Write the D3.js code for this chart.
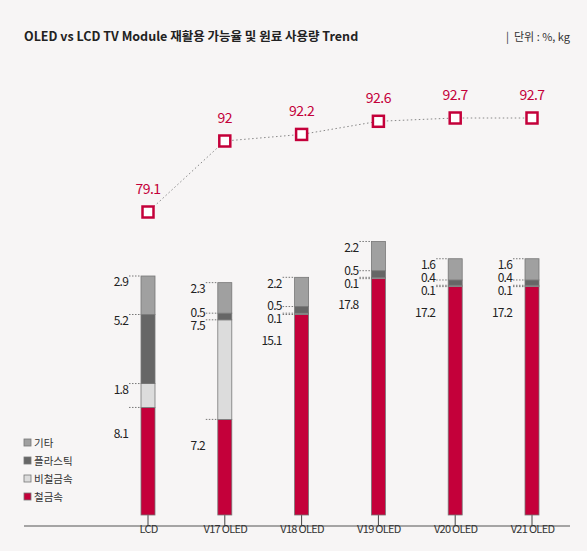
<!DOCTYPE html><html><head><meta charset="utf-8"><script src="https://cdn.jsdelivr.net/npm/d3@7"></script>
<style>body{margin:0;background:#f7f5f5}svg{display:block}text{font-family:"Noto Sans CJK KR","Noto Sans",sans-serif}</style></head><body><svg id="c" width="587" height="551"></svg><script>
const categories=["LCD","V17 OLED","V18 OLED","V19 OLED","V20 OLED","V21 OLED"];
const recycleRate=[79.1,92,92.2,92.6,92.7,92.7];
const ferrous=[8.1,7.2,15.1,17.8,17.2,17.2];
const nonferrous=[1.8,7.5,0.1,0.1,0.1,0.1];
const plastic=[5.2,0.5,0.5,0.5,0.4,0.4];
const other=[2.9,2.3,2.2,2.2,1.6,1.6];
const seriesNames=["철금속","비철금속","플라스틱","기타"];
const colors=["#c4003a","#dcdcdc","#666666","#a0a0a0"];
const svg=d3.select("#c");
svg.append("text").attr("x",24).attr("y",41).attr("font-size",12.5).attr("font-weight",700).attr("fill","#222").text("OLED vs LCD TV Module 재활용 가능율 및 원료 사용량 Trend");
svg.append("text").attr("x",570).attr("y",41).attr("text-anchor","end").attr("font-size",11).attr("fill","#333").attr("xml:space","preserve").text("|  단위 : %, kg");
const x=d3.scalePoint().domain(categories).range([148,532]);
const y=d3.scaleLinear().domain([0,18]).range([515,276]);
const yr=d3.scaleLinear().domain([79.1,92,92.7]).range([212,141,118]);
const data=categories.map((c,i)=>({c,vals:[ferrous[i],nonferrous[i],plastic[i],other[i]]}));
const stack=d3.stack().keys([0,1,2,3]).value((d,k)=>d.vals[k])(data);
svg.append("line").attr("x1",24).attr("x2",570).attr("y1",526).attr("y2",526).attr("stroke","#555").attr("stroke-width",1.2);
const ax=svg.append("g").attr("transform","translate(0,524)").call(d3.axisBottom(x).tickSize(0).tickPadding(1));
ax.select(".domain").remove();
ax.selectAll("text").attr("font-size",11).attr("fill","#333").attr("font-family","'Noto Sans CJK KR',sans-serif").attr("letter-spacing",-0.7);
categories.forEach(c=>svg.append("line").attr("x1",x(c)).attr("x2",x(c)).attr("y1",515).attr("y2",526).attr("stroke","#444"));
const bw=14;
stack.forEach((s,k)=>{svg.selectAll(null).data(s).enter().append("rect").attr("x",d=>x(d.data.c)-bw/2).attr("width",bw).attr("y",d=>y(d[1])).attr("height",d=>y(d[0])-y(d[1])).attr("fill",colors[k]).attr("stroke","#777").attr("stroke-width",0.8);});
data.forEach((d,i)=>{
  const cx=x(d.c), bl=cx-bw/2-1;
  let labs=[0,1,2,3].map(k=>({k,v:d.vals[k],b:y(stack[k][i][1]),ty:y(stack[k][i][1])+6}));
  labs[0].ty=labs[0].b+26;
  const ord=[1,2,3];
  for(let j=1;j<ord.length;j++){const lo=labs[ord[j-1]],hi=labs[ord[j]];if(lo.ty-hi.ty<13)hi.ty=lo.ty-13;}
  labs.forEach(l=>{
    svg.append("line").attr("x1",bl-11).attr("x2",bl).attr("y1",l.b).attr("y2",l.b).attr("stroke","#777").attr("stroke-width",1).attr("stroke-dasharray","1.5,1.5");
    svg.append("text").attr("x",bl-12).attr("y",l.ty).attr("dy","0.35em").attr("text-anchor","end").attr("font-size",12).attr("fill","#222").attr("letter-spacing",-0.8).text(l.v);
  });
});
svg.append("path").datum(recycleRate).attr("d",d3.line().x((d,i)=>x(categories[i])).y(d=>yr(d))).attr("fill","none").attr("stroke","#888").attr("stroke-width",1).attr("stroke-dasharray","1.5,2.5");
svg.selectAll(null).data(recycleRate).enter().append("rect").attr("x",(d,i)=>x(categories[i])-5.5).attr("y",d=>yr(d)-5.5).attr("width",11).attr("height",11).attr("fill","#fff").attr("stroke","#c4003a").attr("stroke-width",2.5);
svg.selectAll(null).data(recycleRate).enter().append("text").attr("x",(d,i)=>x(categories[i])).attr("y",d=>yr(d)-18).attr("text-anchor","middle").attr("font-size",14).attr("fill","#c4003a").attr("letter-spacing",-0.5).text(d=>d);
[3,2,1,0].forEach((k,j)=>{const ly=443+j*18;
  svg.append("rect").attr("x",24).attr("y",ly-4).attr("width",7).attr("height",7).attr("fill",colors[k]).attr("stroke","#777").attr("stroke-width",0.8);
  svg.append("text").attr("x",34).attr("y",ly).attr("dy","0.35em").attr("font-size",10.5).attr("fill","#333").text(seriesNames[k]);});
</script></body></html>
